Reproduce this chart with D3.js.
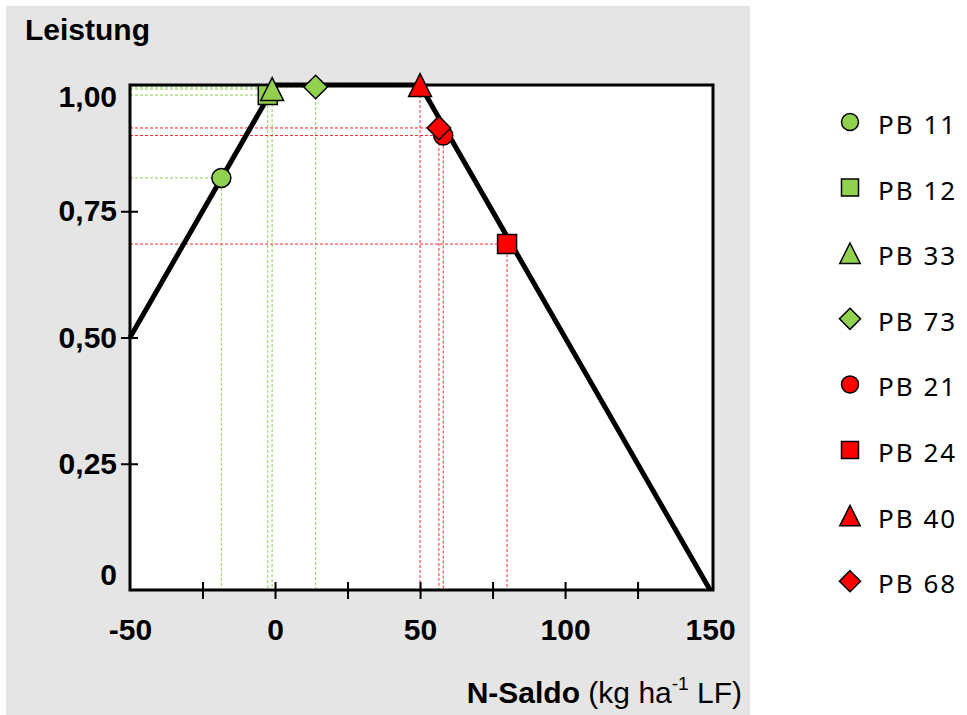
<!DOCTYPE html>
<html><head><meta charset="utf-8">
<script src="https://cdn.jsdelivr.net/npm/d3@7"></script>
<style>body{margin:0;background:#fff}svg{display:block}</style>
</head><body><svg id="c" width="967" height="715"></svg>
<script>
// ---- data ----
const names    = ["PB 11","PB 12","PB 33","PB 73","PB 21","PB 24","PB 40","PB 68"];
const shapes   = ["circle","square","triangle","diamond","circle","square","triangle","diamond"];
const groups   = ["green","green","green","green","red","red","red","red"];
const nSaldo   = [-18.5, -2.5, -1, 14, 58, 80, 50, 56.5];
const leistung = [0.816, 0.98, 0.992, 0.996, 0.9, 0.685, 1.0, 0.915];
const curveX   = [-50, 0, 50, 150];
const curveY   = [0.5, 1, 1, 0];
const xTickLabels = [-50, 0, 50, 100, 150];
const xTickMarks  = [-25, 0, 25, 50, 75, 100, 125];
const yTickValues = [0, 0.25, 0.5, 0.75, 1];
const yTickLabels = ["0", "0,25", "0,50", "0,75", "1,00"];
const yTickMarks  = [0.25, 0.5, 0.75];

const colors = {green: "#92d050", red: "#ff0000"};
const guideColors = {green: "#8fcc55", red: "#ff2a2a"};

const svg = d3.select("#c");
svg.append("rect").attr("x", 6).attr("y", 6).attr("width", 744).attr("height", 709).attr("fill", "#e5e5e5");

const x = d3.scaleLinear().domain([-50, 151]).range([130, 713]);
const y = d3.scaleLinear().domain([0, 1]).range([590, 85]);

// plot area
svg.append("rect").attr("x", x(-50)).attr("y", y(1)).attr("width", x(151) - x(-50)).attr("height", y(0) - y(1)).attr("fill", "#fff");

const pts = names.map((n, i) => ({name: n, shape: shapes[i], g: groups[i], x: nSaldo[i], y: leistung[i]}));

// guides
const gg = svg.append("g");
pts.forEach(p => {
  gg.append("line").attr("x1", x(-50)).attr("x2", x(p.x)).attr("y1", y(p.y)).attr("y2", y(p.y))
    .attr("stroke", guideColors[p.g]).attr("stroke-width", 1).attr("stroke-dasharray", "3,2");
  gg.append("line").attr("x1", x(p.x)).attr("x2", x(p.x)).attr("y1", y(p.y)).attr("y2", y(0))
    .attr("stroke", guideColors[p.g]).attr("stroke-width", 1).attr("stroke-dasharray", "3,2");
});

// frame
svg.append("rect").attr("x", x(-50)).attr("y", y(1)).attr("width", x(151) - x(-50)).attr("height", y(0) - y(1))
  .attr("fill", "none").attr("stroke", "#000").attr("stroke-width", 3);

const FONT = "Liberation Sans, Arial, sans-serif";

// axes
const xAxisMarks = d3.axisBottom(x).tickValues(xTickMarks).tickFormat("").tickSize(8);
const gx = svg.append("g").attr("transform", `translate(0,${y(0)})`).call(xAxisMarks);
gx.select(".domain").remove();
gx.selectAll(".tick line").attr("y1", -8).attr("y2", 9).attr("stroke", "#000").attr("stroke-width", 2);

const xAxisLabels = d3.axisBottom(x).tickValues(xTickLabels).tickFormat(d => String(d)).tickSize(0).tickPadding(29);
const gxl = svg.append("g").attr("transform", `translate(0,${y(0)})`).call(xAxisLabels);
gxl.select(".domain").remove();
gxl.selectAll("text").attr("font-family", FONT).attr("font-weight", "bold")
  .attr("font-size", 30).attr("fill", "#000");

const yAxisMarks = d3.axisLeft(y).tickValues(yTickMarks).tickFormat("").tickSize(8);
const gy = svg.append("g").attr("transform", `translate(${x(-50)},0)`).call(yAxisMarks);
gy.select(".domain").remove();
gy.selectAll(".tick line").attr("x1", -9).attr("x2", 8).attr("stroke", "#000").attr("stroke-width", 2);

const yAxisLabels = d3.axisLeft(y).tickValues(yTickValues).tickFormat((d, i) => yTickLabels[i]).tickSize(0).tickPadding(13);
const gyl = svg.append("g").attr("transform", `translate(${x(-50)},0)`).call(yAxisLabels);
gyl.select(".domain").remove();
gyl.selectAll("text").attr("font-family", FONT).attr("font-weight", "bold")
  .attr("font-size", 30).attr("fill", "#000")
  .attr("y", d => d === 1 ? 12 : d === 0 ? -15 : 0);

// curve
const line = d3.line().x((d, i) => x(curveX[i])).y((d, i) => y(curveY[i]));
svg.append("path").datum(curveX).attr("d", line).attr("fill", "none").attr("stroke", "#000")
  .attr("stroke-width", 5).attr("stroke-linejoin", "miter");

// marker shapes
function shapePath(shape, s) {
  const p = d3.path();
  if (shape === "circle") { p.arc(0, 0, s * 0.5, 0, 2 * Math.PI); }
  else if (shape === "square") { p.rect(-s / 2, -s / 2, s, s); }
  else if (shape === "triangle") { const w = s * 1.2, h = s * 1.2; p.moveTo(0, -h / 2); p.lineTo(w / 2, h / 2); p.lineTo(-w / 2, h / 2); p.closePath(); }
  else if (shape === "diamond") { const r = s * 0.62; p.moveTo(0, -r); p.lineTo(r, 0); p.lineTo(0, r); p.lineTo(-r, 0); p.closePath(); }
  return p.toString();
}

svg.append("g").selectAll("path").data(pts).join("path")
  .attr("transform", d => `translate(${x(d.x)},${y(d.y)})`)
  .attr("d", d => shapePath(d.shape, 19))
  .attr("fill", d => colors[d.g]).attr("stroke", "#000").attr("stroke-width", 1.5);

// titles
svg.append("text").attr("x", 25).attr("y", 40).text("Leistung")
  .attr("font-family", FONT).attr("font-weight", "bold").attr("font-size", 30);

const xt = svg.append("text").attr("x", 742).attr("y", 703).attr("text-anchor", "end")
  .attr("font-family", FONT).attr("font-size", 30).attr("fill", "#000");
xt.append("tspan").attr("font-weight", "bold").text("N-Saldo");
xt.append("tspan").text(" (kg ha");
xt.append("tspan").attr("font-size", 19).attr("dy", -13).text("-1");
xt.append("tspan").attr("dy", 13).text(" LF)");

// legend
const leg = svg.append("g").selectAll("g").data(pts).join("g")
  .attr("transform", (d, i) => `translate(850,${122 + i * 65.6})`);
leg.append("path").attr("d", d => shapePath(d.shape, 17)).attr("fill", d => colors[d.g])
  .attr("stroke", "#000").attr("stroke-width", 1.5);
leg.append("text").attr("x", 28).attr("y", 12).text(d => d.name)
  .attr("font-family", "Noto Sans, DejaVu Sans, sans-serif").attr("font-size", 26)
  .attr("letter-spacing", 2).attr("fill", "#000");
</script></body></html>
